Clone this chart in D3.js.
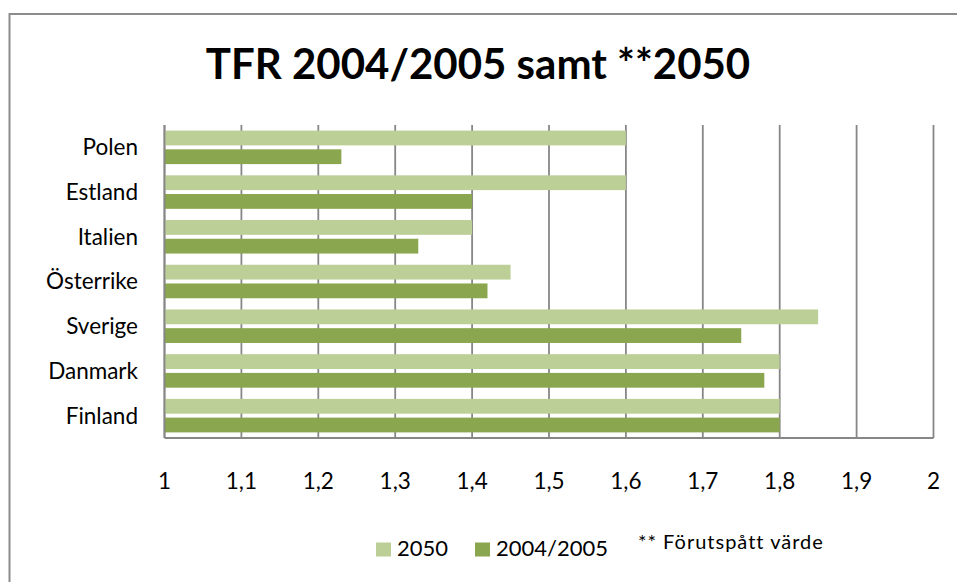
<!DOCTYPE html>
<html>
<head>
<meta charset="utf-8">
<script src="https://cdn.jsdelivr.net/npm/d3@7"></script>
<style>
	body { margin: 0; background: #fff; }
	svg { display: block; font-family: Lato, "Open Sans", sans-serif; }
</style>
</head>
<body>
<svg id="chart" width="957" height="582"></svg>
<script>
	/* Data */
	let countries = ["Polen", "Estland", "Italien", "Österrike", "Sverige", "Danmark", "Finland"];
	let seriesNames = ["2050", "2004/2005"];
	let tfr2050 = [1.6, 1.6, 1.4, 1.45, 1.85, 1.8, 1.8];
	let tfr2004 = [1.23, 1.4, 1.33, 1.42, 1.75, 1.78, 1.8];
	let xTicks = [1, 1.1, 1.2, 1.3, 1.4, 1.5, 1.6, 1.7, 1.8, 1.9, 2];
	let footnote = "** Förutspått värde";
	let title = "TFR 2004/2005 samt **2050";

	let colors = ["#bbcf97", "#8aa64e"];
	let gridColor = "#878787";

	let svg = d3.select("#chart");
	let plot = { left: 164.5, right: 933.5, top: 125, bottom: 438 };

	// Chart frame (runs off the right and bottom edge)
	svg.append("rect")
		.attr("x", 9.5).attr("y", 14)
		.attr("width", 1000).attr("height", 1000)
		.attr("fill", "none")
		.attr("stroke", "#8c8c8c")
		.attr("stroke-width", 2);

	svg.append("text")
		.attr("x", 478).attr("y", 79)
		.attr("text-anchor", "middle")
		.style("font-size", "42px")
		.style("font-weight", "bold")
		.text(title);

	let xScale = d3.scaleLinear().domain([1, 2]).range([plot.left, plot.right]);
	let yScale = d3.scaleBand().domain(countries).range([plot.top, plot.bottom]);
	let ySub = d3.scaleBand().domain(seriesNames).range([0, yScale.bandwidth()])
		.paddingInner(0.21).paddingOuter(0.3);
	let colorScale = d3.scaleOrdinal().domain(seriesNames).range(colors);

	// Gridlines
	svg.append("g")
		.selectAll("line")
		.data(xTicks)
		.enter()
		.append("line")
		.attr("x1", d => xScale(d)).attr("x2", d => xScale(d))
		.attr("y1", plot.top).attr("y2", plot.bottom)
		.attr("stroke", gridColor)
		.attr("stroke-width", 1.8);

	// Bars
	let rows = countries.map((c, i) => ({
		key: c,
		values: [
			{ key: seriesNames[0], value: tfr2050[i] },
			{ key: seriesNames[1], value: tfr2004[i] }
		]
	}));

	let groups = svg.append("g")
		.selectAll("g")
		.data(rows)
		.enter()
		.append("g")
		.attr("transform", d => "translate(0," + yScale(d.key) + ")");

	groups.selectAll("rect")
		.data(d => d.values)
		.enter()
		.append("rect")
		.attr("x", xScale(1))
		.attr("y", d => ySub(d.key))
		.attr("width", d => xScale(d.value) - xScale(1))
		.attr("height", ySub.bandwidth())
		.attr("fill", d => colorScale(d.key));

	// Axis lines
	svg.append("line")
		.attr("x1", plot.left).attr("x2", plot.left)
		.attr("y1", plot.top).attr("y2", plot.bottom)
		.attr("stroke", gridColor).attr("stroke-width", 1.8);
	svg.append("line")
		.attr("x1", plot.left).attr("x2", plot.right)
		.attr("y1", plot.bottom).attr("y2", plot.bottom)
		.attr("stroke", gridColor).attr("stroke-width", 1.8);

	// Category labels
	svg.append("g")
		.selectAll("text")
		.data(countries)
		.enter()
		.append("text")
		.attr("x", 138)
		.attr("y", d => yScale(d) + yScale.bandwidth() / 2)
		.attr("dy", "0.35em")
		.attr("text-anchor", "end")
		.style("font-size", "22.5px")
		.text(d => d);

	// Tick labels
	svg.append("g")
		.selectAll("text")
		.data(xTicks)
		.enter()
		.append("text")
		.attr("x", d => xScale(d))
		.attr("y", 481)
		.attr("dy", "0.35em")
		.attr("text-anchor", "middle")
		.style("font-size", "22.5px")
		.text(d => String(d).replace(".", ","));

	// Legend
	let legendX = [376, 475];
	let legend = svg.append("g")
		.selectAll("g")
		.data(seriesNames)
		.enter()
		.append("g")
		.attr("transform", (d, i) => "translate(" + legendX[i] + ",542.5)");
	legend.append("rect")
		.attr("width", 15).attr("height", 14)
		.attr("fill", d => colorScale(d));
	legend.append("text")
		.attr("x", 21).attr("y", 6)
		.attr("dy", "0.35em")
		.style("font-size", "22px")
		.text(d => d);

	svg.append("text")
		.attr("x", 638).attr("y", 542)
		.attr("dy", "0.35em")
		.style("font-size", "20px")
		.style("letter-spacing", "1px")
		.text(footnote);
</script>
</body>
</html>
